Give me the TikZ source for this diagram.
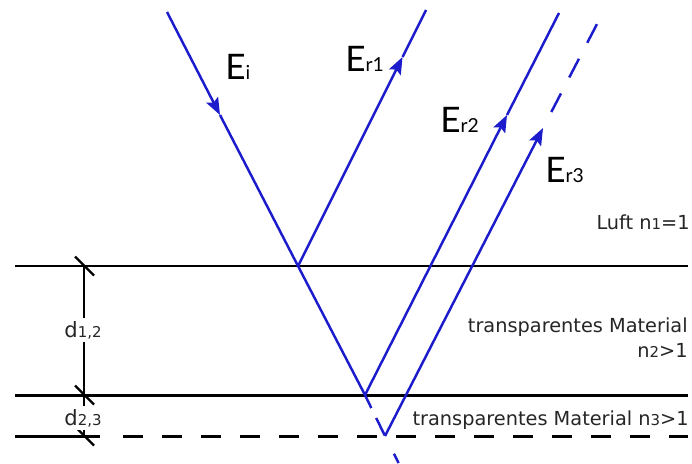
\documentclass[tikz,border=0pt]{standalone}
\usepackage{fontspec}
\setmainfont{DejaVu Sans}
\newfontfamily\rayfont{Lato}
\usepackage{xcolor}
\usepackage{tikz}
\usetikzlibrary{arrows.meta}
\definecolor{RayBlue}{HTML}{1C1CCC}
\definecolor{TxtGray}{HTML}{262626}
\newcommand{\lowidx}[1]{{\fontsize{8.5}{9}\selectfont #1}}
\newcommand{\rayidx}[1]{{\fontsize{11}{13}\selectfont #1}}

\begin{document}
\begin{tikzpicture}[x=1cm,y=1cm,
  iface/.style={black,line width=1.7pt},
  dimtick/.style={black,line width=1.4pt},
  ray/.style={RayBlue,line width=1.4pt},
  rayarrow/.style={ray,-{Stealth[length=0.34cm,width=0.26cm,inset=0.06cm]}},
  matlabel/.style={anchor=base east,inner sep=0pt,text=TxtGray,font=\fontsize{11}{13}\selectfont},
  dimlabel/.style={fill=white,inner sep=1.5pt,text=TxtGray,font=\fontsize{12}{14}\selectfont},
  elabel/.style={anchor=base west,inner sep=0pt,font=\rayfont\fontsize{20}{22}\selectfont}]
\path[use as bounding box] (0,0) rectangle (13.84,9.26);
\fill[white] (0,0) rectangle (13.84,9.26);
\coordinate (IfL1) at (0.30,3.94);
\coordinate (IfR1) at (13.76,3.94);
\coordinate (IfL2) at (0.30,1.36);
\coordinate (IfR2) at (13.76,1.36);
\coordinate (IfL3) at (0.30,0.54);
\coordinate (IfM3) at (2.00,0.54);
\coordinate (IfD3) at (2.46,0.54);
\coordinate (IfR3) at (13.76,0.54);
\draw[iface] (IfL1) -- (IfR1);
\draw[iface] (IfL2) -- (IfR2);
\draw[iface] (IfL3) -- (IfM3);
\draw[iface,dash pattern=on 0.40cm off 0.38cm] (IfD3) -- (IfR3);
\coordinate (D1) at (1.68,3.94);
\coordinate (D2) at (1.68,1.36);
\coordinate (D3) at (1.68,0.54);
\draw[dimtick] (D1) -- (D3);
\foreach \d in {D1,D2,D3}
  \draw[dimtick] (\d) ++(-0.18,0.19) -- ++(0.38,-0.38);
\node[dimlabel] (LabD12) at (1.66,2.66) {d\lowidx{1,2}};
\node[dimlabel] (LabD23) at (1.66,0.90) {d\lowidx{2,3}};
\coordinate (Src) at (3.34,9.02);
\coordinate (ArrI) at (4.40,6.96);
\coordinate (P1) at (5.96,3.94);
\coordinate (P2) at (7.30,1.36);
\coordinate (P3) at (7.70,0.54);
\coordinate (Sink) at (7.97,0.00);
\coordinate (ArrR1) at (8.05,8.12);
\coordinate (EndR1) at (8.52,9.06);
\coordinate (ArrR2) at (10.14,6.96);
\coordinate (EndR2) at (11.18,9.00);
\coordinate (ArrR3) at (10.86,6.70);
\coordinate (EndR3) at (11.94,8.78);
\draw[rayarrow] (Src) -- (ArrI);
\draw[ray] (ArrI) -- (P1) -- (P2);
\draw[ray,dash pattern=on 0.29cm off 0.22cm on 0.39cm off 0.41cm on 0.40cm] (P2) -- (P3) -- (Sink);
\draw[rayarrow] (P1) -- (ArrR1);
\draw[ray] (ArrR1) -- (EndR1);
\draw[rayarrow] (P2) -- (ArrR2);
\draw[ray] (ArrR2) -- (EndR2);
\draw[rayarrow] (P3) -- (ArrR3);
\draw[ray,dash pattern=on 0.42cm off 0.36cm,dash phase=0.42cm] (ArrR3) -- (EndR3);
\node[elabel] (LabEi) at (4.50,7.66) {E\rayidx{i}};
\node[elabel] (LabEr1) at (6.90,7.82) {E\rayidx{r1}};
\node[elabel] (LabEr2) at (8.80,6.62) {E\rayidx{r2}};
\node[elabel] (LabEr3) at (10.90,5.62) {E\rayidx{r3}};
\node[matlabel] (LabAir) at (13.80,4.68) {Luft n\lowidx{1}=1};
\node[matlabel] (LabMat2) at (13.76,2.62) {transparentes Material};
\node[matlabel] (LabN2) at (13.76,2.12) {n\lowidx{2}>1};
\node[matlabel] (LabMat3) at (13.78,0.76) {transparentes Material n\lowidx{3}>1};
\end{tikzpicture}
\end{document}
